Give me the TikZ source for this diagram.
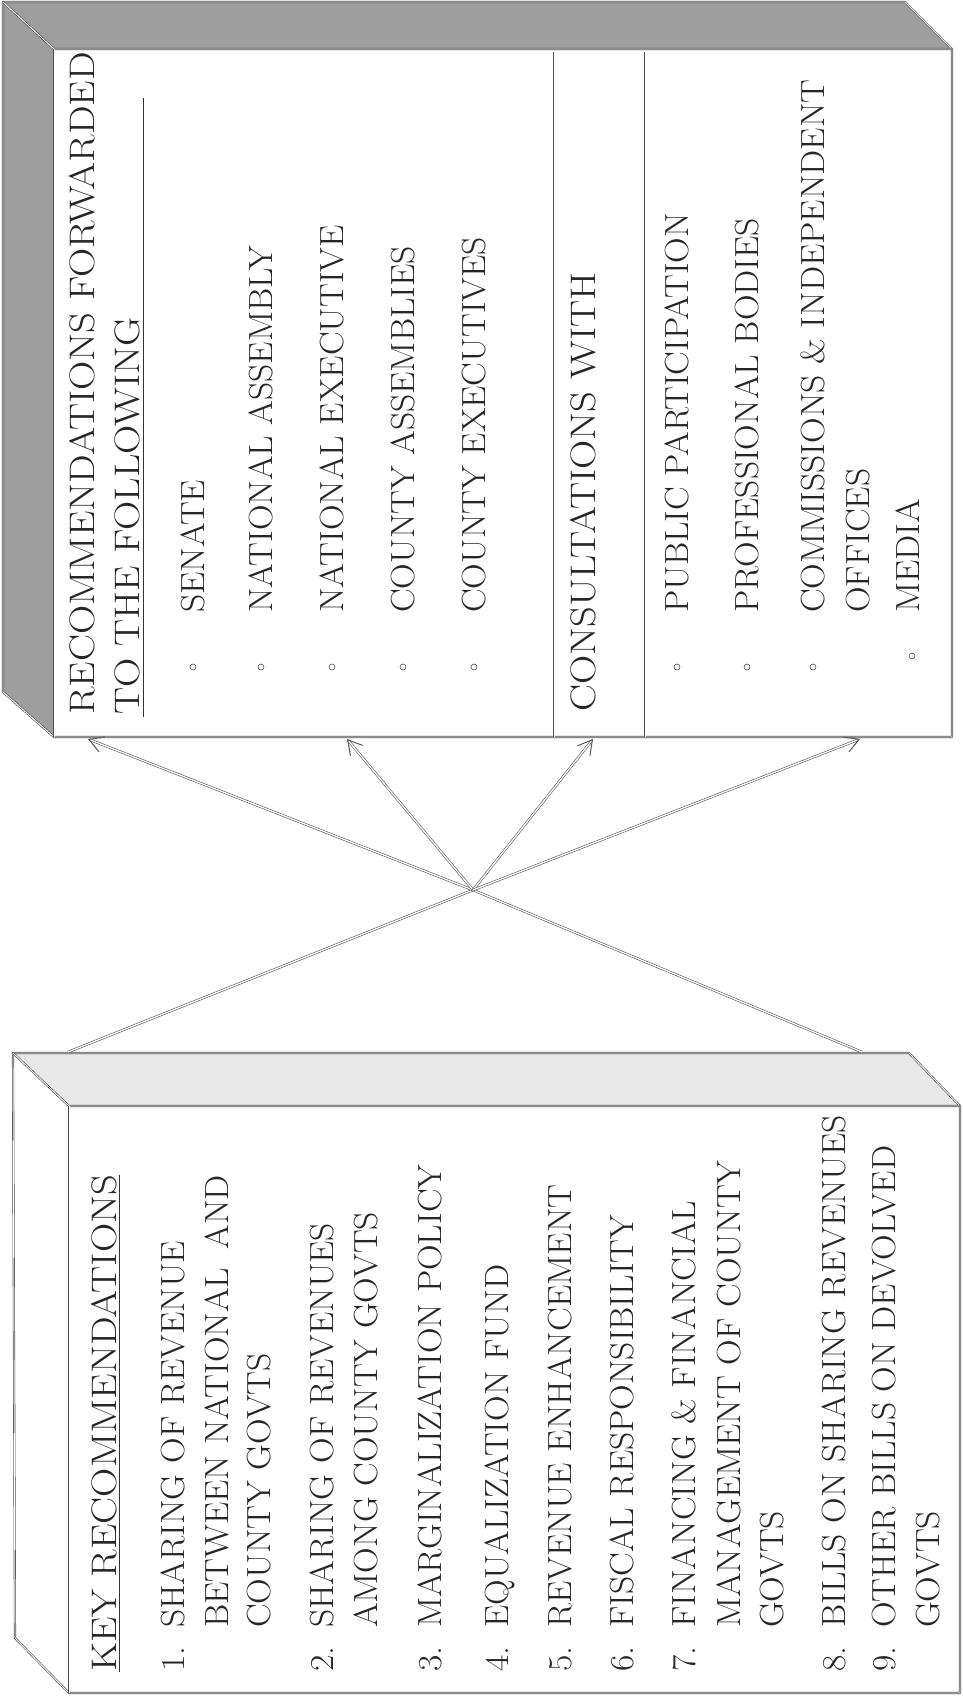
\documentclass[tikz,border=0pt]{standalone}
\usepackage{fontspec}
\usetikzlibrary{arrows.meta}
\newfontfamily\myitemfam{lmroman17-regular.otf}[FakeStretch=1.06]
\newfontfamily\myheadfam{lmroman17-regular.otf}[FakeStretch=1.14]
\newcommand\myitemfont{\myitemfam\fontsize{33.5}{40}\selectfont}
\newcommand\myheadfont{\myheadfam\fontsize{35.5}{43}\selectfont}
\begin{document}
\begin{tikzpicture}[x=1pt,y=-1pt,
  edge/.style={draw=black!70, line width=0.6pt, double=white, double distance=0.9pt, line join=round},
  divider/.style={draw=black!70, line width=0.8pt, double=white, double distance=1pt},
  link/.style={draw=black!65, line width=0.6pt, double=white, double distance=1.3pt},
  tip/.style={-{Straight Barb[length=14pt,width=16pt,line width=1pt]}},
  darkst/.style={fill=black!38},
  lightst/.style={fill=black!9},
  txt/.style={rotate=90, anchor=west, inner sep=0pt, text height=22.9pt, text depth=0pt, font=\myitemfont, text=black!85},
  head/.style={txt, text height=24.2pt, font=\myheadfont},
  bul/.style={circle, draw=black!70, line width=0.6pt, minimum size=6pt, inner sep=0pt},
  uline/.style={draw=black!80, line width=1pt},
]
\useasboundingbox (0,0) rectangle (962,1702);
\fill[white] (0,0) rectangle (962,1702);

% ---------- right box (recommendations forwarded) ----------
\fill[darkst] (3,2) -- (905,2) -- (952,49) -- (54,49) -- cycle;
\fill[darkst] (3,2) -- (54,49) -- (54,737) -- (3,692) -- cycle;
\draw[edge] (3,2) -- (905,2) -- (952,49) -- (952,737) -- (54,737) -- (3,692) -- cycle;
\draw[edge] (3,2) -- (54,49) -- (952,49);
\draw[edge] (54,49) -- (54,737);
\draw[divider] (554,52) -- (554,737);
\draw[divider] (645,52) -- (645,737);

\node[head] (rh1) at (82,715) {RECOMMENDATIONS FORWARDED};
\node[head] (rh2) at (127,715) {TO THE FOLLOWING};
\draw[uline] (143,717) -- (143,98);

\node[bul] (b1) at (193,667) {};
\node[txt] (r1) at (193,613) {SENATE};
\node[bul] (b2) at (261,667) {};
\node[txt] (r2) at (261,613) {NATIONAL ASSEMBLY};
\node[bul] (b3) at (332,667) {};
\node[txt] (r3) at (332,613) {NATIONAL EXECUTIVE};
\node[bul] (b4) at (403,667) {};
\node[txt] (r4) at (403,613) {COUNTY ASSEMBLIES};
\node[bul] (b5) at (474,667) {};
\node[txt] (r5) at (474,613) {COUNTY EXECUTIVES};

\node[head] (cw) at (583,712) {CONSULTATIONS WITH};

\node[bul] (b6) at (677,667) {};
\node[txt] (c1) at (677,613) {PUBLIC PARTICIPATION};
\node[bul] (b7) at (747,667) {};
\node[txt] (c2) at (747,613) {PROFESSIONAL BODIES};
\node[bul] (b8) at (813,667) {};
\node[txt] (c3) at (813,613) {COMMISSIONS \& INDEPENDENT};
\node[txt] (c3b) at (858,613) {OFFICES};
\node[bul] (b9) at (912,656) {};
\node[txt] (c4) at (908,613) {MEDIA};

% ---------- left box (key recommendations) ----------
\fill[lightst] (13,1053) -- (909,1053) -- (960,1106) -- (69,1106) -- cycle;
\draw[edge] (13,1053) -- (909,1053) -- (960,1106) -- (960,1693) -- (69,1693) -- (15,1638) -- cycle;
\draw[edge] (13,1053) -- (69,1106) -- (960,1106);
\draw[edge] (69,1106) -- (69,1693);

\node[head] (kh) at (104,1672) {KEY RECOMMENDATIONS};
\draw[uline] (119,1672) -- (kh.north east -| 119,0);

\node[txt] (n1) at (173,1672) {1.};
\node[txt] (k1a) at (173,1628) {SHARING OF REVENUE};
\node[txt] (k1b) at (217,1628) {BETWEEN NATIONAL\hspace{0.55em}AND};
\node[txt] (k1c) at (259,1628) {COUNTY GOVTS};
\node[txt] (n2) at (322,1672) {2.};
\node[txt] (k2a) at (322,1628) {SHARING OF REVENUES};
\node[txt] (k2b) at (366,1628) {AMONG COUNTY GOVTS};
\node[txt] (n3) at (430,1672) {3.};
\node[txt] (k3) at (430,1628) {MARGINALIZATION POLICY};
\node[txt] (n4) at (497,1672) {4.};
\node[txt] (k4) at (497,1628) {EQUALIZATION FUND};
\node[txt] (n5) at (560,1672) {5.};
\node[txt] (k5) at (560,1628) {REVENUE ENHANCEMENT};
\node[txt] (n6) at (622,1672) {6.};
\node[txt] (k6) at (622,1628) {FISCAL RESPONSIBILITY};
\node[txt] (n7) at (684,1672) {7.};
\node[txt] (k7a) at (684,1628) {FINANCING \& FINANCIAL};
\node[txt] (k7b) at (729,1628) {MANAGEMENT OF COUNTY};
\node[txt] (k7c) at (772,1628) {GOVTS};
\node[txt] (n8) at (834,1672) {8.};
\node[txt] (k8) at (834,1628) {BILLS ON SHARING REVENUES};
\node[txt] (n9) at (884,1672) {9.};
\node[txt] (k9a) at (884,1628) {OTHER BILLS ON DEVOLVED};
\node[txt] (k9b) at (928,1628) {GOVTS};

% ---------- connectors ----------
\coordinate (hub) at (473,890);
\coordinate (t1) at (88,739);
\coordinate (t2) at (347,739);
\coordinate (t3) at (593,739);
\coordinate (t4) at (860,739);
\coordinate (l1) at (68,1052);
\coordinate (l2) at (862,1052);
\draw[link] (l1) -- (hub);
\draw[link] (l2) -- (hub);
\draw[link,tip] (hub) -- (t1);
\draw[link,tip] (hub) -- (t2);
\draw[link,tip] (hub) -- (t3);
\draw[link,tip] (hub) -- (t4);
\end{tikzpicture}
\end{document}
